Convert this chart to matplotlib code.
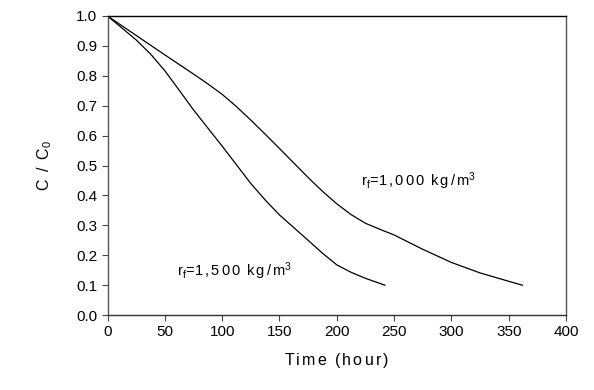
import matplotlib.pyplot as plt
import numpy as np

plt.rcParams['font.family'] = ['Liberation Sans', 'DejaVu Sans']
plt.rcParams['mathtext.fontset'] = 'custom'
plt.rcParams['mathtext.rm'] = 'Liberation Sans'
plt.rcParams['mathtext.it'] = 'Liberation Sans'

# rf = 1,500 kg/m3
t_1500 = [0, 25, 37.5, 50, 62.5, 75, 100, 125, 137.5, 150, 175, 187.5, 200, 212.5, 225, 242]
c_1500 = [1.0, 0.92, 0.873, 0.817, 0.752, 0.686, 0.565, 0.44, 0.385, 0.335, 0.25, 0.207, 0.168, 0.143, 0.123, 0.10]

# rf = 1,000 kg/m3
t_1000 = [0, 25, 50, 75, 87.5, 100, 112.5, 125, 137.5, 150, 175, 187.5, 200, 212.5, 225,
          237.5, 250, 275, 300, 325, 350, 362]
c_1000 = [1.0, 0.935, 0.87, 0.806, 0.773, 0.738, 0.697, 0.652, 0.605, 0.557, 0.46, 0.414, 0.372, 0.336, 0.307,
          0.287, 0.268, 0.22, 0.176, 0.141, 0.113, 0.10]

xticks = np.arange(0, 401, 50)
yticks = np.arange(0, 1.01, 0.1)


def sp(s):
    # letter-spaced mathtext, the original has wide tracking
    out = ''
    for i, ch in enumerate(s):
        if ch == ' ':
            out += r'\hspace{0.6}'
            continue
        if ch == '=':
            out += r'\!\mathrm{=}\!'
        else:
            out += r'\mathrm{%s}' % ch
        if i < len(s) - 1 and s[i + 1] != ' ' and s[i + 1] != '=' and ch != '=':
            out += r'\,'
    return out


fig = plt.figure(figsize=(5.94, 3.90), dpi=100)
ax = fig.add_axes([0.181, 0.192, 0.772, 0.767])

ax.plot(t_1500, c_1500, color='black', linewidth=0.9)
ax.plot(t_1000, c_1000, color='black', linewidth=0.9)

ax.text(221, 0.43, '$' + r'\mathrm{r}_\mathrm{f}' + sp('=1,000 kg/m') + r'^\mathrm{3}$', fontsize=10.5)
ax.text(61, 0.13, '$' + r'\mathrm{r}_\mathrm{f}' + sp('=1,500 kg/m') + r'^\mathrm{3}$', fontsize=10.5)

ax.set_xlim(0, 400)
ax.set_ylim(0, 1.0)
ax.set_xticks(xticks)
ax.set_yticks(yticks)
ax.set_yticklabels(['{:.1f}'.format(v) for v in yticks])
ax.tick_params(direction='out', length=4, width=0.8, labelsize=11, color='#444444')
ax.tick_params(axis='x', pad=3)
for s in ax.spines.values():
    s.set_linewidth(1.0)
ax.spines['left'].set_color('#555555')
ax.spines['right'].set_color('#555555')
ax.spines['bottom'].set_color('#333333')

ax.set_xlabel('$' + sp('Time (hour)') + '$', fontsize=11.5, labelpad=9)
ax.set_ylabel('$' + sp('C / C') + r'_\mathrm{0}$', fontsize=11.5, labelpad=16)

plt.savefig('out.png', dpi=100)
